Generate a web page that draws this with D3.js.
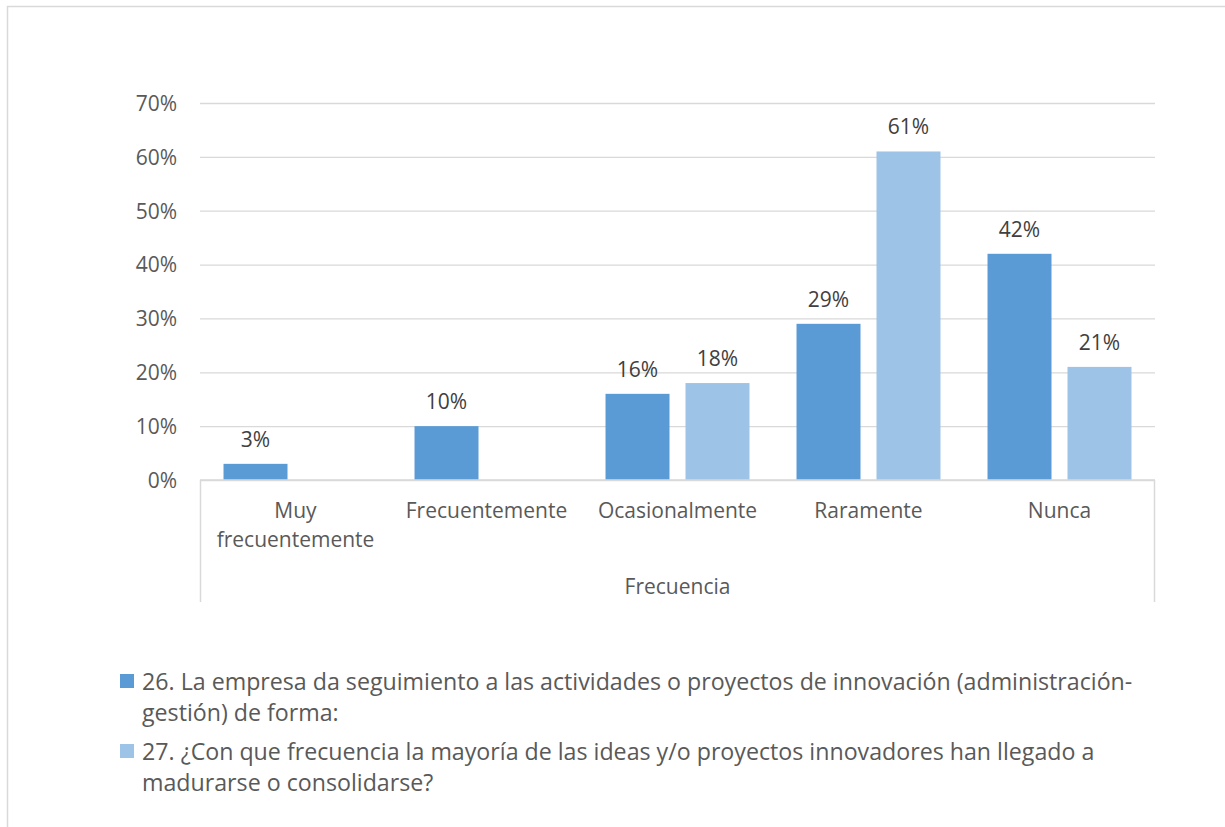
<!DOCTYPE html>
<html>
<head>
<meta charset="utf-8">
<script src="https://cdn.jsdelivr.net/npm/d3@7"></script>
<style>
  body { margin: 0; background: #fff; }
  text { font-family: "Open Sans", Lato, sans-serif; }
</style>
</head>
<body>
<div id="chart"></div>
<script>
// data
var categories = ["Muy frecuentemente", "Frecuentemente", "Ocasionalmente", "Raramente", "Nunca"];
var categoryLines = [["Muy", "frecuentemente"], ["Frecuentemente"], ["Ocasionalmente"], ["Raramente"], ["Nunca"]];
var seguimiento = [3, 10, 16, 29, 42];      // pregunta 26
var maduracion = [null, null, 18, 61, 21];  // pregunta 27
var yTicks = [0, 10, 20, 30, 40, 50, 60, 70];
var axisTitle = "Frecuencia";
var legendLabels = [
  ["26. La empresa da seguimiento a las actividades o proyectos de innovación (administración-", "gestión) de forma:"],
  ["27. ¿Con que frecuencia la mayoría de las ideas y/o proyectos innovadores han llegado a", "madurarse o consolidarse?"]
];
var colors = ["#5b9bd5", "#9dc3e6"];

var W = 1225, H = 827;
var margin = {top: 103, right: 70, bottom: 347, left: 200},
    width = W - margin.left - margin.right,
    height = H - margin.top - margin.bottom;

var svg = d3.select("#chart").append("svg")
    .attr("width", W)
    .attr("height", H);

// chart border
svg.append("rect")
    .attr("x", 7.5).attr("y", 6.5)
    .attr("width", W + 10).attr("height", H + 10)
    .attr("fill", "none")
    .attr("stroke", "#d9d9d9")
    .attr("stroke-width", 1.5);

var g = svg.append("g")
    .attr("transform", "translate(" + margin.left + "," + margin.top + ")");

var y = d3.scaleLinear().domain([0, 70]).range([height, 0]);

var x0 = d3.scaleBand().domain(categories).range([0, width]).padding(0);
var x1 = d3.scaleBand().domain([0, 1]).range([0, x0.bandwidth()])
    .paddingInner(0.2).paddingOuter(0.294);

// gridlines
g.append("g")
    .call(d3.axisLeft(y).tickValues(yTicks).tickSize(-width).tickFormat(function(d) { return d + "%"; }))
    .call(function(a) {
        a.select(".domain").remove();
        a.selectAll(".tick line").attr("stroke", "#d9d9d9").attr("stroke-width", 1.3);
        a.selectAll(".tick text").attr("x", -23).attr("fill", "#595959")
            .style("font-size", "21px").attr("dy", "0.35em");
    });

// bars
var table = categories.map(function(c, i) {
    return {cat: c, vals: [seguimiento[i], maduracion[i]]};
});

var groups = g.selectAll(".grp")
    .data(table)
    .enter().append("g")
    .attr("transform", function(d) { return "translate(" + x0(d.cat) + ",0)"; });

var bars = groups.selectAll("g.bar")
    .data(function(d) {
        return d.vals.map(function(v, k) { return {k: k, v: v}; }).filter(function(e) { return e.v !== null; });
    })
    .enter().append("g");

bars.append("rect")
    .attr("x", function(d) { return x1(d.k); })
    .attr("y", function(d) { return y(d.v); })
    .attr("width", x1.bandwidth())
    .attr("height", function(d) { return height - y(d.v); })
    .attr("fill", function(d) { return colors[d.k]; });

bars.append("text")
    .attr("x", function(d) { return x1(d.k) + x1.bandwidth() / 2; })
    .attr("y", function(d) { return y(d.v) - 17; })
    .attr("text-anchor", "middle")
    .attr("fill", "#404040")
    .style("font-size", "21px")
    .text(function(d) { return d.v + "%"; });

// category axis
var xa = g.append("g").attr("transform", "translate(0," + height + ")");
xa.append("line").attr("x1", 0).attr("x2", width).attr("stroke", "#d9d9d9").attr("stroke-width", 1.5);
xa.append("line").attr("x1", 0.5).attr("x2", 0.5).attr("y1", 0).attr("y2", 122).attr("stroke", "#d9d9d9").attr("stroke-width", 1.5);
xa.append("line").attr("x1", width - 0.5).attr("x2", width - 0.5).attr("y1", 0).attr("y2", 122).attr("stroke", "#d9d9d9").attr("stroke-width", 1.5);

categories.forEach(function(c, i) {
    var t = xa.append("text")
        .attr("x", x0(c) + x0.bandwidth() / 2)
        .attr("y", 38)
        .attr("text-anchor", "middle")
        .attr("fill", "#595959")
        .style("font-size", "21px");
    categoryLines[i].forEach(function(line, j) {
        t.append("tspan").attr("x", x0(c) + x0.bandwidth() / 2).attr("dy", j ? 29 : 0).text(line);
    });
});

xa.append("text")
    .attr("x", width / 2)
    .attr("y", 114)
    .attr("text-anchor", "middle")
    .attr("fill", "#595959")
    .style("font-size", "21px")
    .text(axisTitle);

// legend
var legend = svg.append("g").attr("transform", "translate(120,0)");
legendLabels.forEach(function(lines, i) {
    var ly = 688 + i * 70;
    legend.append("rect")
        .attr("x", 0).attr("y", ly - 14)
        .attr("width", 14).attr("height", 14)
        .attr("fill", colors[i]);
    var t = legend.append("text")
        .attr("x", 22).attr("y", ly + 2)
        .attr("fill", "#595959")
        .style("font-size", "23.2px");
    lines.forEach(function(line, j) {
        t.append("tspan").attr("x", 22).attr("dy", j ? 31 : 0).text(line);
    });
});
</script>
</body>
</html>
